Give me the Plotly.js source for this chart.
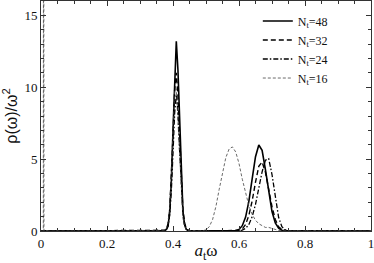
<!DOCTYPE html>
<html><head><meta charset="utf-8">
<script src="https://cdn.plot.ly/plotly-3.0.1.min.js"></script>
<style>html,body{margin:0;padding:0;background:#fff}#chart{width:374px;height:263px}</style>
</head><body><div id="chart"></div>
<script>
// shared abscissa a_t*omega
const X = [0, 0.007, 0.008, 0.009, 0.1, 0.2, 0.3, 0.35,
  0.37, 0.375, 0.38, 0.385, 0.39, 0.395, 0.40, 0.405, 0.41, 0.415, 0.42, 0.425, 0.43, 0.435, 0.44, 0.445, 0.45,
  0.46, 0.47, 0.48, 0.49, 0.50, 0.51, 0.52, 0.53, 0.54, 0.55, 0.56, 0.57, 0.58, 0.59, 0.60,
  0.61, 0.62, 0.63, 0.64, 0.65, 0.66, 0.67, 0.68, 0.69, 0.70, 0.71, 0.72, 0.73, 0.74, 0.75, 0.76,
  0.8, 0.9, 1.0];

const Y48 = [0, 0, 0, 0, 0, 0, 0, 0,
  0, 0.03, 0.1, 0.35, 1.3, 3.5, 7.0, 11.0, 13.2, 11.2, 7.4, 3.7, 1.4, 0.45, 0.12, 0.04, 0.01,
  0, 0, 0, 0, 0, 0, 0, 0, 0, 0, 0, 0, 0.01, 0.03, 0.11,
  0.37, 0.97, 2.08, 3.64, 5.17, 5.98, 5.61, 4.29, 2.67, 1.35, 0.56, 0.19, 0.05, 0.01, 0, 0,
  0, 0, 0];

const Y32 = [0, 0, 0, 0, 0, 0, 0, 0,
  0, 0.05, 0.15, 0.5, 1.5, 3.6, 6.6, 9.8, 11.0, 9.4, 6.3, 3.4, 1.5, 0.55, 0.2, 0.07, 0.02,
  0, 0, 0, 0, 0, 0, 0, 0, 0, 0, 0, 0, 0, 0.01, 0.04,
  0.14, 0.45, 1.1, 2.1, 3.4, 4.5, 4.8, 4.1, 2.9, 1.7, 0.8, 0.3, 0.1, 0.03, 0.01, 0,
  0, 0, 0];

const Y24 = [0, 0, 0, 0, 0, 0, 0, 0,
  0, 0.03, 0.1, 0.35, 1.1, 2.8, 5.4, 8.2, 9.5, 8.3, 5.6, 3.0, 1.3, 0.45, 0.15, 0.05, 0.01,
  0, 0, 0, 0, 0, 0, 0, 0, 0, 0, 0, 0, 0, 0, 0.02,
  0.06, 0.18, 0.46, 1.0, 1.85, 2.97, 4.12, 4.92, 5.03, 3.93, 2.26, 0.95, 0.3, 0.07, 0.01, 0,
  0, 0, 0];

const Y16 = [0, 0, 40, 0, 0, 0, 0, 0,
  0, 0.05, 0.2, 0.6, 1.7, 3.8, 7.0, 9.8, 9.9, 7.6, 4.6, 2.2, 0.9, 0.35, 0.12, 0.04, 0.01,
  0, 0, 0, 0.02, 0.08, 0.3, 0.8, 1.7, 2.9, 4.1, 5.1, 5.7, 5.85, 5.5, 4.7,
  3.6, 2.6, 1.75, 1.15, 0.75, 0.5, 0.35, 0.25, 0.25, 0.18, 0.1, 0.04, 0.02, 0.01, 0, 0,
  0, 0, 0];

const NAMES = ['N<sub>t</sub>=48', 'N<sub>t</sub>=32', 'N<sub>t</sub>=24', 'N<sub>t</sub>=16'];
const XTICKS = [0, 0.2, 0.4, 0.6, 0.8, 1];
const XTICKTEXT = ['0', '0.2', '0.4', '0.6', '0.8', '1'];
const YTICKS = [0, 5, 10, 15];

const SERIES = [Y48, Y32, Y24, Y16];
const STYLES = [
  {color: '#000', width: 1.6, dash: 'solid'},
  {color: '#000', width: 1.4, dash: '5px,3px'},
  {color: '#000', width: 1.3, dash: '5px,2px,1.5px,2px'},
  {color: '#444', width: 0.8, dash: '3px,2px'}
];

const traces = SERIES.map((y, i) => ({
  x: X, y: y, type: 'scatter', mode: 'lines', name: NAMES[i],
  line: STYLES[i], hoverinfo: 'skip'
}));

const tickfont = {family: 'Liberation Serif', size: 13, color: '#111'};
const layout = {
  width: 374, height: 263,
  margin: {l: 41, r: 3, t: 1, b: 32},
  paper_bgcolor: '#fff', plot_bgcolor: '#fff',
  showlegend: true,
  legend: {x: 0.657, y: 0.976, xanchor: 'left', yanchor: 'top',
    font: {family: 'Liberation Serif', size: 12, color: '#111'},
    bgcolor: 'rgba(0,0,0,0)', itemwidth: 30, tracegroupgap: 0},
  xaxis: {
    range: [0, 1], tickvals: XTICKS, ticktext: XTICKTEXT, ticklabeloverflow: 'allow',
    showgrid: false, zeroline: false, showline: true, linecolor: '#333', linewidth: 1,
    mirror: 'ticks', ticks: 'inside', ticklen: 5, tickcolor: '#333',
    minor: {dtick: 0.05, ticks: 'inside', ticklen: 3, tickcolor: '#333', showgrid: false},
    tickfont: tickfont,
    title: {text: '<i>a</i><sub>t</sub>ω', font: {family: 'Liberation Serif', size: 17, color: '#111'}, standoff: 2}
  },
  yaxis: {
    range: [0, 16], tickvals: YTICKS,
    showgrid: false, zeroline: false, showline: true, linecolor: '#333', linewidth: 1,
    mirror: 'ticks', ticks: 'inside', ticklen: 5, tickcolor: '#333',
    minor: {dtick: 1, ticks: 'inside', ticklen: 3, tickcolor: '#333', showgrid: false},
    tickfont: tickfont,
    title: {text: 'ρ(ω)/ω<sup>2</sup>', font: {family: 'Liberation Sans', size: 16, color: '#111'}, standoff: 6}
  }
};

Plotly.newPlot('chart', traces, layout, {staticPlot: true, displayModeBar: false});
</script>
</body></html>
